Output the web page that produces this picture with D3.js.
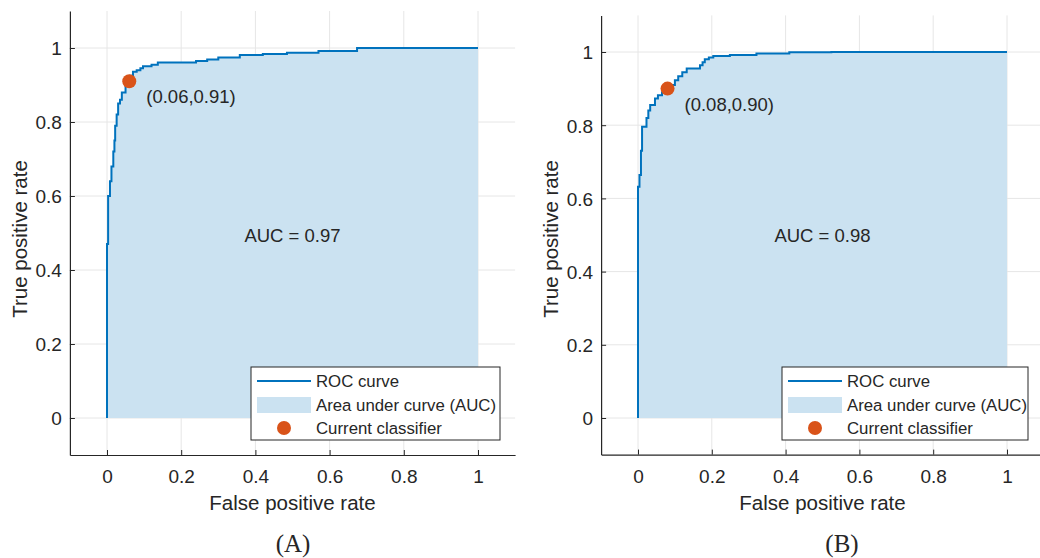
<!DOCTYPE html>
<html>
<head>
<meta charset="utf-8">
<script src="https://cdn.jsdelivr.net/npm/d3@7"></script>
<style>
  body { margin: 0; background: #fff; }
  text { font-family: "Liberation Sans", Arial, sans-serif; fill: #262626; }
</style>
</head>
<body>
<svg id="chart" width="1040" height="558"></svg>
<script>
// ROC points (false positive rate, true positive rate)
var fprA = [0, 0, 0.003, 0.008, 0.012, 0.017, 0.02, 0.022, 0.026, 0.03, 0.035, 0.04, 0.05, 0.06, 0.062, 0.07, 0.08, 0.09, 0.097, 0.12, 0.137, 0.224, 0.24, 0.27, 0.3, 0.358, 0.42, 0.485, 0.57, 0.674, 1];
var tprA = [0, 0.47, 0.6, 0.64, 0.68, 0.72, 0.75, 0.79, 0.82, 0.85, 0.86, 0.88, 0.9, 0.91, 0.925, 0.936, 0.94, 0.945, 0.951, 0.955, 0.961, 0.961, 0.965, 0.969, 0.974, 0.981, 0.984, 0.987, 0.992, 1, 1];

var fprB = [0, 0, 0.004, 0.008, 0.011, 0.023, 0.028, 0.033, 0.046, 0.054, 0.065, 0.08, 0.09, 0.1, 0.109, 0.12, 0.132, 0.168, 0.175, 0.181, 0.192, 0.204, 0.249, 0.321, 0.41, 0.524, 1];
var tprB = [0, 0.632, 0.664, 0.73, 0.796, 0.82, 0.84, 0.855, 0.873, 0.882, 0.89, 0.9, 0.91, 0.923, 0.934, 0.945, 0.955, 0.964, 0.972, 0.98, 0.985, 0.989, 0.992, 0.996, 0.999, 1, 1];

var classifierA = [0.06, 0.91];
var classifierB = [0.08, 0.90];
var aucA = 0.97, aucB = 0.98;

var tickVals = [0, 0.2, 0.4, 0.6, 0.8, 1];
var legendLabels = ["ROC curve", "Area under curve (AUC)", "Current classifier"];

var lineColor = "#0072BD", fillColor = "#cbe2f1", dotColor = "#D95319";

var svg = d3.select("#chart");

function panel(opt) {
    var x = d3.scaleLinear().domain([-0.1, 1.1]).range([opt.x0 - 0.1 * opt.w, opt.x0 + 1.1 * opt.w]);
    var y = d3.scaleLinear().domain([-0.1, 1.1]).range([opt.y0 + 0.1 * opt.h, opt.y0 - 1.1 * opt.h]);
    var g = svg.append("g");
    var pts = opt.fpr.map(function(d, i) { return [d, opt.tpr[i]]; });

    // grid
    g.selectAll(".gx").data(tickVals).enter().append("line")
        .attr("x1", function(d) { return x(d); }).attr("x2", function(d) { return x(d); })
        .attr("y1", y(1.1)).attr("y2", y(-0.1))
        .attr("stroke", "#e6e6e6").attr("stroke-width", 1);
    g.selectAll(".gy").data(tickVals).enter().append("line")
        .attr("y1", function(d) { return y(d); }).attr("y2", function(d) { return y(d); })
        .attr("x1", x(-0.1)).attr("x2", x(1.1))
        .attr("stroke", "#e6e6e6").attr("stroke-width", 1);

    // area
    g.append("path").datum(pts)
        .attr("fill", fillColor)
        .attr("d", d3.area().curve(d3.curveStepAfter)
            .x(function(d) { return x(d[0]); }).y0(y(0)).y1(function(d) { return y(d[1]); }));

    // roc line
    g.append("path").datum(pts)
        .attr("fill", "none").attr("stroke", lineColor).attr("stroke-width", 2)
        .attr("d", d3.line().curve(d3.curveStepAfter)
            .x(function(d) { return x(d[0]); }).y(function(d) { return y(d[1]); }));

    // axes
    var xAxis = d3.axisBottom(x).tickValues(tickVals).tickSizeInner(-5).tickSizeOuter(0)
        .tickFormat(d3.format("~g")).tickPadding(0);
    var ax = g.append("g").attr("transform", "translate(0," + y(-0.1) + ")").call(xAxis);
    ax.selectAll(".tick text").attr("y", 28).attr("dy", null);
    var yAxis = d3.axisLeft(y).tickValues(tickVals).tickSizeInner(-5).tickSizeOuter(0)
        .tickFormat(d3.format("~g")).tickPadding(0);
    var ay = g.append("g").attr("transform", "translate(" + x(-0.1) + ",0)").call(yAxis);
    ay.selectAll(".tick text").attr("x", -8).attr("dy", "0.36em");
    [ax, ay].forEach(function(a) {
        a.select(".domain").attr("stroke", "#262626").attr("stroke-width", 1.2);
        a.selectAll(".tick line").attr("stroke", "#262626");
        a.selectAll(".tick text").style("font-size", "19px").attr("fill", "#262626");
    });

    // classifier point
    g.append("circle").attr("cx", x(opt.pt[0])).attr("cy", y(opt.pt[1])).attr("r", 7).attr("fill", dotColor);
    g.append("text").attr("x", x(opt.pt[0]) + 17).attr("y", y(opt.pt[1]) + 22)
        .style("font-size", "18.5px")
        .text("(" + opt.pt[0].toFixed(2) + "," + opt.pt[1].toFixed(2) + ")");

    g.append("text").attr("x", x(0.5)).attr("y", 241.5).attr("text-anchor", "middle")
        .style("font-size", "18.5px").text("AUC = " + opt.auc.toFixed(2));

    // axis labels
    g.append("text").attr("x", x(0.5)).attr("y", 510).attr("text-anchor", "middle")
        .style("font-size", "20.5px").text("False positive rate");
    g.append("text").attr("transform", "translate(" + (x(-0.1) - 43) + ",239) rotate(-90)")
        .attr("text-anchor", "middle").style("font-size", "20.5px").text("True positive rate");

    // caption
    g.append("text").attr("x", opt.capX).attr("y", 552).attr("text-anchor", "middle")
        .style("font-family", "'Liberation Serif', 'Times New Roman', serif")
        .style("font-size", "25px").attr("fill", "#000").text(opt.caption);

    // legend
    var lx = opt.legX, ly = 367;
    var lg = g.append("g").attr("transform", "translate(" + lx + "," + ly + ")");
    lg.append("rect").attr("width", opt.legW).attr("height", 73)
        .attr("fill", "#fff").attr("stroke", "#262626").attr("stroke-width", 1);
    lg.append("line").attr("x1", 6).attr("x2", 60).attr("y1", 14).attr("y2", 14)
        .attr("stroke", lineColor).attr("stroke-width", 2);
    lg.append("rect").attr("x", 6).attr("y", 30).attr("width", 54).attr("height", 16).attr("fill", fillColor);
    lg.append("circle").attr("cx", 33).attr("cy", 61).attr("r", 7).attr("fill", dotColor);
    lg.selectAll(".lt").data(legendLabels).enter().append("text")
        .attr("x", 65).attr("y", function(d, i) { return 20 + i * 23.5; })
        .style("font-size", "16.8px").text(function(d) { return d; });
}

panel({ x0: 107, w: 371, y0: 418, h: 370, fpr: fprA, tpr: tprA, pt: classifierA, auc: aucA,
        caption: "(A)", capX: 293, legX: 251, legW: 249 });
panel({ x0: 638, w: 369, y0: 418, h: 366, fpr: fprB, tpr: tprB, pt: classifierB, auc: aucB,
        caption: "(B)", capX: 842, legX: 782, legW: 246 });
</script>
</body>
</html>
